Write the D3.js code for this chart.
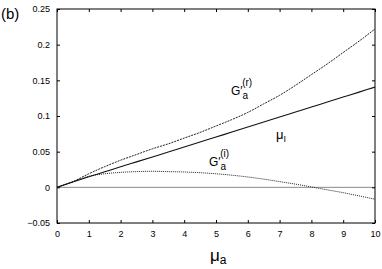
<!DOCTYPE html>
<html>
<head>
<meta charset="utf-8">
<script src="https://cdn.jsdelivr.net/npm/d3@7"></script>
<style>
  body { margin: 0; background: #fff; }
  text { font-family: "Liberation Sans", Arial, sans-serif; }
</style>
</head>
<body>
<script>
// mu_a values along the x axis
var muA = [0, 0.5, 1, 1.5, 2, 2.5, 3, 3.5, 4, 4.5, 5, 5.5, 6, 6.5, 7, 7.5, 8, 8.5, 9, 9.5, 10];

// mu_I (solid)
var muI = [0, 0.0075, 0.0148, 0.0218, 0.0288, 0.0357, 0.0426, 0.0495, 0.0565, 0.0635, 0.0705,
           0.0775, 0.0845, 0.0915, 0.0985, 0.1055, 0.1125, 0.1195, 0.1265, 0.1335, 0.1405];

// G'a(r) (dashed)
var gReal = [0, 0.008, 0.019, 0.029, 0.038, 0.046, 0.054, 0.061, 0.069, 0.077, 0.086,
             0.095, 0.105, 0.117, 0.129, 0.143, 0.158, 0.173, 0.189, 0.205, 0.222];

// G'a(i) (dotted)
var gImag = [0, 0.008, 0.0155, 0.019, 0.021, 0.022, 0.0225, 0.022, 0.0215, 0.0205, 0.019,
             0.017, 0.0145, 0.0115, 0.008, 0.0045, 0.0005, -0.0035, -0.0075, -0.012, -0.0167];

var xTicks = [0, 1, 2, 3, 4, 5, 6, 7, 8, 9, 10];
var yTicks = [-0.05, 0, 0.05, 0.1, 0.15, 0.2, 0.25];

var margin = { top: 9, right: 7, bottom: 46, left: 57 },
    width = 382 - margin.left - margin.right,
    height = 269 - margin.top - margin.bottom;

var svg = d3.select("body").append("svg")
    .attr("width", 382)
    .attr("height", 269);

var g = svg.append("g")
    .attr("transform", "translate(" + margin.left + "," + margin.top + ")");

var x = d3.scaleLinear().domain([0, 10]).range([0, width]);
var y = d3.scaleLinear().domain([-0.05, 0.25]).range([height, 0]);

// zero line
g.append("line")
    .attr("x1", 0).attr("x2", width)
    .attr("y1", y(0)).attr("y2", y(0))
    .attr("stroke", "#8a8a8a")
    .attr("stroke-width", 1);

// axes, ticks pointing inward
function styleAxis(sel) {
    sel.select(".domain").remove();
    sel.selectAll(".tick line").attr("stroke", "#000");
    sel.selectAll(".tick text")
        .attr("fill", "#000")
        .style("font-size", "9px");
}

g.append("g")
    .attr("transform", "translate(0," + height + ")")
    .call(d3.axisBottom(x).tickValues(xTicks).tickSizeInner(-3).tickSizeOuter(0).tickPadding(8)
        .tickFormat(d3.format("d")))
    .call(styleAxis);

g.append("g")
    .call(d3.axisTop(x).tickValues(xTicks).tickSizeInner(-3).tickSizeOuter(0).tickFormat(""))
    .call(styleAxis);

g.append("g")
    .call(d3.axisLeft(y).tickValues(yTicks).tickSizeInner(-3).tickSizeOuter(0).tickPadding(7)
        .tickFormat(function (d) { return d === 0 ? "0" : d3.format("")(+d.toFixed(2)); }))
    .call(styleAxis);

g.append("g")
    .attr("transform", "translate(" + width + ",0)")
    .call(d3.axisRight(y).tickValues(yTicks).tickSizeInner(-3).tickSizeOuter(0).tickFormat(""))
    .call(styleAxis);

// frame
g.append("rect")
    .attr("width", width)
    .attr("height", height)
    .attr("fill", "none")
    .attr("stroke", "#000")
    .attr("stroke-width", 1);

var line = d3.line()
    .x(function (d) { return x(d[0]); })
    .y(function (d) { return y(d[1]); })
    .curve(d3.curveMonotoneX);

function series(vals) {
    return muA.map(function (m, i) { return [m, vals[i]]; });
}

g.append("path")
    .datum(series(gImag))
    .attr("d", line)
    .attr("fill", "none")
    .attr("stroke", "#222")
    .attr("stroke-width", 1)
    .attr("stroke-dasharray", "1,1");

g.append("path")
    .datum(series(gReal))
    .attr("d", line)
    .attr("fill", "none")
    .attr("stroke", "#222")
    .attr("stroke-width", 1)
    .attr("stroke-dasharray", "2,1");

g.append("path")
    .datum(series(muI))
    .attr("d", line)
    .attr("fill", "none")
    .attr("stroke", "#111")
    .attr("stroke-width", 1.1);

// panel label
svg.append("text")
    .attr("x", 1).attr("y", 19)
    .style("font-size", "15px")
    .text("(b)");

// curve labels
function gLabel(px, py, sup) {
    var t = svg.append("text")
        .attr("x", px).attr("y", py)
        .style("font-size", "12px");
    t.append("tspan").text("G\u2032");
    t.append("tspan").attr("dy", 4).style("font-size", "10px").text("a");
    t.append("tspan").attr("dx", -6).attr("dy", -13).style("font-size", "10px").text(sup);
}
gLabel(231, 95, "(r)");
gLabel(209, 166, "(i)");

var muLabel = svg.append("text")
    .attr("x", 276).attr("y", 139)
    .style("font-size", "13px");
muLabel.append("tspan").text("\u03bc");
muLabel.append("tspan").attr("dy", 3).style("font-size", "9px").text("I");

var xTitle = svg.append("text")
    .attr("x", 210).attr("y", 261)
    .style("font-size", "17px");
xTitle.append("tspan").text("\u03bc");
xTitle.append("tspan").attr("dy", 3).style("font-size", "12px").text("a");
</script>
</body>
</html>
